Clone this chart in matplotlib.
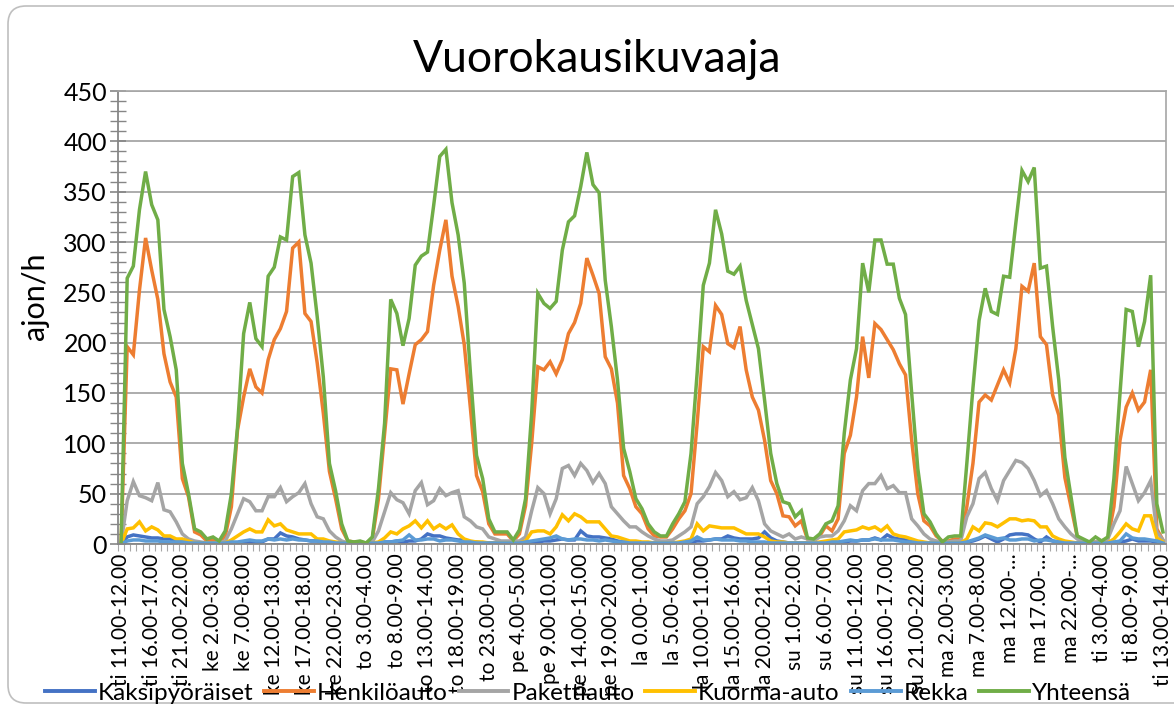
import matplotlib.pyplot as plt
import matplotlib.transforms as mtransforms
from matplotlib.patches import FancyBboxPatch
import numpy as np

plt.rcParams['font.family'] = ['Lato', 'DejaVu Sans']

# every 5th hourly category is labelled (ti 11.00-12.00 ... ti 13.00-14.00)
tick_labels = [
    "ti 11.00-12.00", "ti 16.00-17.00", "ti 21.00-22.00", "ke 2.00-3.00",
    "ke 7.00-8.00", "ke 12.00-13.00", "ke 17.00-18.00", "ke 22.00-23.00",
    "to 3.00-4.00", "to 8.00-9.00", "to 13.00-14.00", "to 18.00-19.00",
    "to 23.00-0.00", "pe 4.00-5.00", "pe 9.00-10.00", "pe 14.00-15.00",
    "pe 19.00-20.00", "la 0.00-1.00", "la 5.00-6.00", "la 10.00-11.00",
    "la 15.00-16.00", "la 20.00-21.00", "su 1.00-2.00", "su 6.00-7.00",
    "su 11.00-12.00", "su 16.00-17.00", "su 21.00-22.00", "ma 2.00-3.00",
    "ma 7.00-8.00", "ma 12.00-\u2026", "ma 17.00-\u2026", "ma 22.00-\u2026",
    "ti 3.00-4.00", "ti 8.00-9.00", "ti 13.00-14.00",
]

series_names = ["Kaksipyöräiset", "Henkilöauto", "Pakettiauto",
                "Kuorma-auto", "Rekka", "Yhteensä"]
colors = ["#4472C4", "#ED7D31", "#A5A5A5", "#FFC000", "#5B9BD5", "#70AD47"]

kaksipyoraiset = [
    0, 7, 9, 8, 7, 6, 6, 5, 5, 3, 2, 2, 1, 1, 1, 1, 1, 1, 1, 1,
    1, 2, 1, 2, 5, 5, 11, 8, 7, 5, 4, 3, 3, 2, 1, 1, 1, 1, 1, 1,
    1, 1, 1, 2, 2, 3, 2, 3, 3, 5, 10, 8, 8, 6, 5, 4, 4, 2, 2, 1,
    1, 1, 1, 1, 1, 1, 1, 2, 2, 3, 3, 4, 5, 4, 4, 13, 8, 7, 7, 6,
    5, 3, 2, 2, 1, 1, 1, 1, 1, 1, 1, 1, 2, 2, 3, 3, 4, 5, 5, 8,
    6, 5, 5, 5, 6, 12, 6, 3, 2, 1, 1, 1, 1, 1, 1, 1, 1, 1, 2, 3,
    3, 4, 4, 6, 4, 9, 6, 5, 4, 3, 2, 1, 1, 1, 1, 1, 1, 1, 2, 3,
    5, 8, 5, 2, 5, 9, 10, 10, 9, 5, 2, 7, 3, 2, 1, 1, 1, 1, 1, 1,
    1, 1, 1, 2, 3, 5, 3, 3, 3, 2, 1,
]
henkiloauto = [
    0, 196, 188, 252, 304, 272, 243, 189, 161, 146, 65, 47, 12, 9, 3, 4, 2, 8, 37, 113,
    146, 174, 156, 150, 183, 203, 214, 231, 294, 300, 229, 221, 180, 130, 72, 45, 15, 3, 2, 2,
    1, 5, 45, 110, 174, 173, 139, 169, 198, 203, 211, 257, 292, 322, 266, 236, 198, 135, 68, 52,
    20, 10, 10, 10, 3, 10, 38, 100, 176, 173, 181, 169, 183, 209, 220, 239, 284, 267, 249, 186,
    174, 140, 68, 55, 37, 30, 15, 8, 7, 7, 15, 25, 33, 50, 120, 196, 191, 237, 228, 199,
    195, 216, 173, 146, 133, 103, 63, 50, 28, 27, 18, 23, 5, 4, 8, 18, 13, 25, 90, 108,
    146, 206, 165, 219, 213, 203, 193, 179, 168, 103, 50, 23, 18, 8, 3, 3, 5, 5, 37, 80,
    141, 148, 143, 158, 173, 160, 194, 256, 251, 279, 206, 198, 148, 128, 66, 37, 8, 3, 2, 2,
    3, 5, 37, 103, 136, 150, 133, 141, 173, 15, 4,
]
pakettiauto = [
    0, 43, 62, 48, 46, 43, 61, 34, 32, 22, 10, 5, 3, 2, 1, 1, 1, 3, 15, 30,
    45, 42, 33, 33, 47, 47, 56, 42, 47, 51, 60, 40, 27, 25, 13, 7, 3, 1, 1, 1,
    1, 2, 13, 32, 51, 44, 41, 30, 53, 61, 39, 43, 55, 48, 51, 53, 27, 23, 17, 15,
    7, 5, 3, 3, 3, 3, 7, 33, 56, 50, 30, 45, 75, 78, 68, 80, 73, 61, 70, 60,
    37, 30, 23, 17, 17, 12, 8, 5, 3, 3, 4, 8, 12, 17, 40, 47, 57, 71, 63, 47,
    52, 44, 46, 56, 43, 20, 13, 10, 7, 10, 5, 7, 5, 3, 7, 8, 8, 13, 23, 38,
    33, 53, 60, 60, 68, 55, 58, 51, 51, 25, 18, 10, 5, 3, 2, 2, 3, 3, 27, 40,
    65, 71, 55, 43, 63, 73, 83, 81, 75, 63, 48, 53, 40, 25, 17, 10, 5, 3, 2, 2,
    3, 5, 20, 33, 77, 60, 43, 51, 63, 12, 4,
]
kuorma_auto = [
    0, 15, 16, 22, 13, 17, 14, 8, 8, 5, 5, 3, 1, 1, 1, 1, 1, 1, 4, 8,
    12, 15, 12, 12, 24, 18, 20, 14, 12, 10, 10, 10, 5, 5, 3, 2, 1, 1, 1, 1,
    1, 1, 2, 6, 12, 10, 15, 18, 23, 16, 23, 15, 19, 15, 19, 10, 5, 3, 2, 2,
    1, 1, 1, 1, 1, 1, 3, 12, 13, 13, 10, 17, 29, 23, 30, 27, 22, 22, 22, 15,
    8, 7, 5, 3, 3, 2, 2, 1, 1, 1, 1, 2, 3, 5, 20, 13, 18, 17, 16, 16,
    16, 13, 10, 10, 10, 7, 3, 2, 2, 1, 1, 1, 1, 1, 2, 3, 4, 5, 12, 13,
    14, 17, 15, 17, 13, 18, 10, 8, 7, 5, 3, 2, 1, 1, 1, 1, 1, 1, 5, 17,
    13, 21, 20, 17, 21, 25, 25, 23, 24, 23, 17, 17, 8, 5, 3, 2, 1, 1, 1, 1,
    1, 1, 5, 12, 20, 15, 13, 28, 28, 6, 2,
]
rekka = [
    0, 3, 4, 4, 3, 3, 3, 2, 2, 2, 2, 1, 1, 1, 1, 1, 1, 1, 2, 2,
    3, 4, 3, 3, 5, 4, 5, 4, 5, 4, 4, 3, 3, 2, 2, 1, 1, 1, 1, 1,
    1, 1, 1, 2, 2, 3, 4, 9, 4, 4, 5, 5, 3, 4, 4, 3, 2, 2, 1, 1,
    1, 1, 1, 1, 1, 1, 2, 3, 4, 5, 6, 8, 5, 4, 5, 5, 4, 4, 3, 4,
    3, 2, 2, 1, 1, 1, 1, 1, 1, 1, 1, 1, 2, 3, 7, 4, 4, 5, 4, 4,
    4, 3, 3, 2, 2, 2, 1, 1, 1, 1, 1, 1, 1, 1, 1, 1, 2, 2, 3, 4,
    3, 4, 4, 5, 4, 4, 4, 3, 2, 2, 1, 1, 1, 1, 1, 1, 1, 1, 2, 4,
    6, 9, 7, 5, 6, 4, 4, 5, 5, 3, 4, 4, 3, 2, 1, 1, 1, 1, 1, 1,
    1, 1, 2, 3, 10, 6, 5, 5, 4, 3, 1,
]
yhteensa = [
    0, 264, 276, 332, 370, 337, 322, 233, 206, 173, 80, 50, 15, 12, 5, 7, 3, 13, 50, 116,
    209, 240, 204, 196, 266, 275, 305, 302, 365, 369, 307, 279, 226, 166, 80, 53, 20, 3, 2, 3,
    1, 7, 55, 120, 243, 229, 197, 224, 277, 286, 290, 336, 385, 392, 339, 307, 259, 170, 88, 65,
    25, 12, 12, 12, 4, 14, 45, 130, 249, 239, 234, 241, 292, 320, 326, 355, 389, 357, 349, 262,
    216, 163, 95, 72, 45, 35, 20, 12, 8, 8, 20, 30, 42, 90, 170, 257, 279, 332, 308, 271,
    268, 276, 242, 218, 194, 143, 90, 60, 42, 40, 27, 33, 6, 5, 10, 20, 23, 38, 110, 163,
    194, 279, 250, 302, 302, 278, 278, 244, 228, 150, 75, 30, 22, 10, 2, 7, 8, 8, 80, 155,
    222, 254, 231, 228, 266, 265, 319, 371, 360, 374, 274, 276, 216, 163, 86, 47, 8, 5, 2, 7,
    3, 7, 65, 150, 233, 231, 196, 221, 267, 40, 12,
]

data = [kaksipyoraiset, henkiloauto, pakettiauto, kuorma_auto, rekka, yhteensa]
x = np.arange(len(yhteensa))

W, H = 1174, 709
fig = plt.figure(figsize=(W / 100, H / 100), dpi=100)

# rounded chart-area border
border = FancyBboxPatch((8, 6), 1200, 697, boxstyle="round,pad=0,rounding_size=18",
                        transform=mtransforms.IdentityTransform(),
                        facecolor="none", edgecolor="#BFBFBF", lw=1.2)
fig.add_artist(border)

ax = fig.add_axes([118 / W, 1 - 544 / H, 1048 / W, 453 / H])

lines = []
for vals, name, col in zip(data, series_names, colors):
    ln, = ax.plot(x, vals, color=col, lw=2.5, label=name, solid_joinstyle="miter")
    lines.append(ln)

ax.set_xlim(-0.5, len(x) - 0.5)
ax.set_ylim(0, 450)

ax.set_xticks(np.arange(0, len(x), 5))
ax.set_xticklabels(tick_labels, rotation=90, fontsize=15)
ax.set_xticks(np.arange(-0.5, len(x), 1), minor=True)
ax.tick_params(axis="x", which="major", length=0, pad=7)
ax.tick_params(axis="x", which="minor", length=5, width=0.8, color="#A6A6A6", direction="out")

ax.set_yticks(np.arange(0, 451, 50))
ax.set_yticks(np.arange(0, 451, 10), minor=True)
ax.tick_params(axis="y", which="major", length=12, width=1.2, color="#868686",
               direction="inout", labelsize=18, pad=2)
ax.tick_params(axis="y", which="minor", length=11, width=1.0, color="#868686",
               direction="inout")

ax.grid(axis="y", which="major", color="#A6A6A6", lw=1.3)
ax.set_axisbelow(True)
for side in ["left", "bottom"]:
    ax.spines[side].set_color("#868686")
    ax.spines[side].set_linewidth(1.3)
for side in ["right", "top"]:
    ax.spines[side].set_color("#A6A6A6")
    ax.spines[side].set_linewidth(1.2)

fig.text(597 / W, 1 - 60 / H, "Vuorokausikuvaaja", ha="center", va="center", fontsize=32)
fig.text(35 / W, 1 - 296 / H, "ajon/h", rotation=90, ha="center", va="center", fontsize=22)

leg = fig.legend(lines, series_names, loc="center", bbox_to_anchor=(588 / W, 1 - 693 / H),
                 ncol=6, frameon=False, fontsize=17.5, handlelength=2.05,
                 columnspacing=0.45, handletextpad=0.12, borderpad=0)
for lh in leg.get_lines():
    lh.set_linewidth(2.8)

fig.savefig("out.png", dpi=100)
